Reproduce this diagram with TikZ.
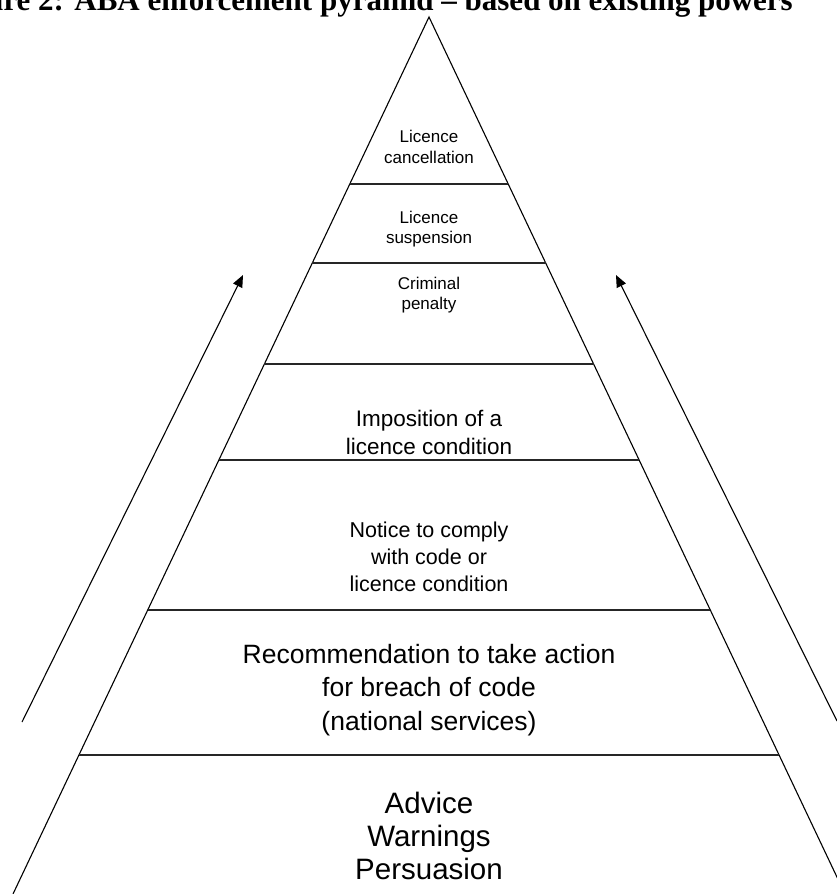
\documentclass[tikz,border=0pt]{standalone}
\usepackage{fontspec}
\setmainfont{Liberation Sans}
\newfontfamily\titlefont[Ligatures=TeX]{Liberation Serif}
\usetikzlibrary{arrows.meta}
\begin{document}
\begin{tikzpicture}[x=1pt,y=-1pt,
  edge/.style={line width=1.1pt,black},
  level/.style={line width=1.2pt,black!85},
  arr/.style={line width=1.1pt,-{Triangle[length=12pt,width=10pt]}},
  lbl/.style={align=center,inner sep=0pt},
  small/.style={lbl,font=\fontsize{17}{20.5}\selectfont},
  mid/.style={lbl,font=\fontsize{21.5}{27}\selectfont},
  midb/.style={lbl,font=\fontsize{22.5}{28}\selectfont},
  large/.style={lbl,font=\fontsize{26.5}{33.5}\selectfont},
  huge/.style={lbl,font=\fontsize{29.5}{33}\selectfont}]
\useasboundingbox (0,0) rectangle (837,894);
\clip (0,0) rectangle (837,894);
% title (clipped at the top and left as in the reference)
\node[anchor=base east,inner sep=0pt,font=\titlefont\bfseries\fontsize{31}{36}\selectfont] (title) at (793,10) {Figure 2: ABA enforcement pyramid – based on existing powers};
% pyramid outline
\coordinate (apex) at (429,17);
\coordinate (bl) at (13,894);
\coordinate (br) at (845,894);
\draw[edge,line join=miter] (bl) -- (apex) -- (br);
% level lines
\coordinate (l1) at (349.8,184); \coordinate (r1) at (508.2,184);
\coordinate (l2) at (312.3,263); \coordinate (r2) at (545.7,263);
\coordinate (l3) at (264.4,364); \coordinate (r3) at (593.6,364);
\coordinate (l4) at (218.9,460); \coordinate (r4) at (639.1,460);
\coordinate (l5) at (147.7,610); \coordinate (r5) at (710.3,610);
\coordinate (l6) at (79,755);    \coordinate (r6) at (779,755);
\foreach \i in {1,...,6} \draw[level] (l\i) -- (r\i);
% labels
\node[small] (t1) at (429,147) {Licence\\cancellation};
\node[small] (t2) at (429,229) {Licence\\suspension};
\node[small] (t3) at (429,295) {Criminal\\penalty};
\node[midb] (t4) at (429,432) {Imposition of a\\licence condition};
\node[mid] (t5) at (429,557) {Notice to comply\\with code or\\licence condition};
\node[large] (t6) at (429,690) {Recommendation to take action\\for breach of code\\(national services)};
\node[huge] (t7) at (429,836) {Advice\\Warnings\\Persuasion};
% arrows
\coordinate (a1s) at (22,722);  \coordinate (a1e) at (243,275);
\coordinate (a2s) at (837,721); \coordinate (a2e) at (616,275);
\draw[arr] (a1s) -- (a1e);
\draw[arr] (a2s) -- (a2e);
\end{tikzpicture}
\end{document}
